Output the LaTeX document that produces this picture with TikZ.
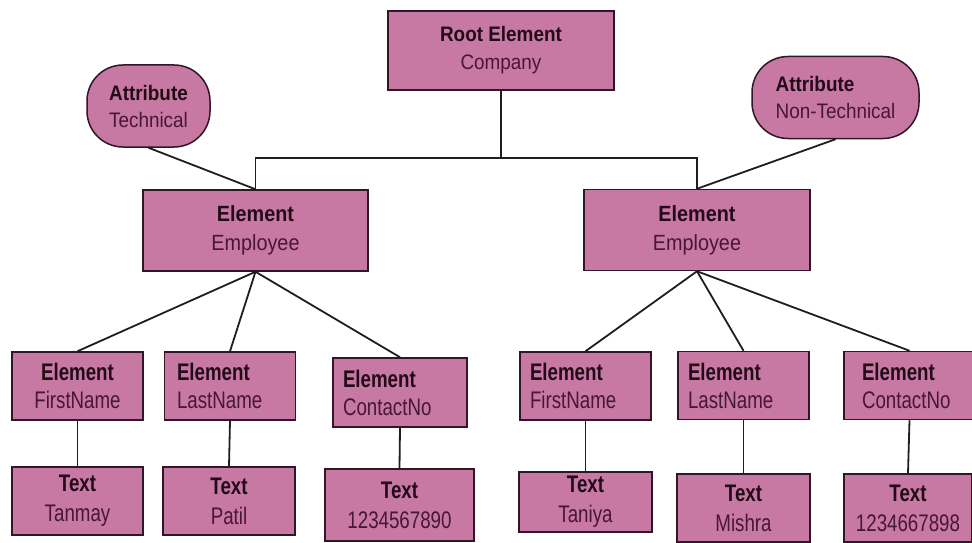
\documentclass[tikz,border=0pt]{standalone}
\usepackage{fontspec}
\setmainfont{Liberation Sans}
\newfontfamily\upperfont{Liberation Sans}[FakeStretch=0.9]
\newfontfamily\lowerfont{Liberation Sans}[FakeStretch=0.78]
\definecolor{xmlpink}{RGB}{199,121,163}
\definecolor{xmledge}{RGB}{48,22,38}
\definecolor{xmlbold}{RGB}{35,10,25}
\definecolor{xmltext}{RGB}{72,22,56}
\definecolor{xmlline}{RGB}{30,30,30}
\newcommand{\xmlhead}[1]{\textcolor{xmlbold}{\textbf{#1}}}

\begin{document}
\begin{tikzpicture}[x=1pt, y=-1pt,
  rootbox/.style={draw=xmledge, line width=1.5pt, fill=xmlpink, text=xmltext, minimum width=226, minimum height=79, align=center, inner sep=0pt, font=\upperfont\fontsize{21}{28}\selectfont},
  attrbox/.style={draw=xmledge, line width=1.5pt, rounded corners=36pt, fill=xmlpink, text=xmltext, minimum height=82, align=left, inner sep=0pt, font=\upperfont\fontsize{21}{27}\selectfont},
  empbox/.style={draw=xmledge, line width=1.5pt, fill=xmlpink, text=xmltext, minimum width=225, minimum height=81, align=center, inner sep=0pt, font=\upperfont\fontsize{22}{29}\selectfont},
  elembox/.style={draw=xmledge, line width=1.5pt, fill=xmlpink, text=xmltext, minimum width=131, minimum height=68, align=center, inner sep=0pt, font=\lowerfont\fontsize{24}{28}\selectfont},
  elemleft/.style={elembox, align=left, text width=#1, inner xsep=10pt},
  textbox/.style={draw=xmledge, line width=1.5pt, fill=xmlpink, text=xmltext, minimum width=132, minimum height=68, align=center, inner sep=0pt, font=\lowerfont\fontsize{24}{30}\selectfont},
  link/.style={draw=xmlline, line width=1.8pt}
]
\useasboundingbox (0,0) rectangle (972,543);

% top of the tree
\node[rootbox] (root) at (501,50.5) {\xmlhead{Root Element}\\Company};
\node[attrbox, minimum width=123] (attrL) at (148.5,106) {\xmlhead{Attribute}\\Technical};
\node[attrbox, minimum width=167] (attrR) at (835.5,97.5) {\xmlhead{Attribute}\\Non-Technical};
\node[empbox] (empL) at (255.5,230.5) {\xmlhead{Element}\\Employee};
\node[empbox, minimum width=226] (empR) at (697,230) {\xmlhead{Element}\\Employee};
\coordinate (bus) at (501,158);

% child elements
\node[elembox] (fnL) at (77.5,386) {\xmlhead{Element}\\FirstName};
\node[elemleft=106pt] (lnL) at (230,386) {\xmlhead{Element}\\LastName};
\node[elemleft=114pt, minimum height=69] (cnL) at (400,392.5) {\xmlhead{Element}\\ContactNo};
\node[elemleft=111pt] (fnR) at (585.5,386) {\xmlhead{Element}\\FirstName};
\node[elemleft=111pt] (lnR) at (743.5,385.5) {\xmlhead{Element}\\LastName};
\node[elemleft=95pt] (cnR) at (909.5,385.5) {\xmlhead{Element}\\ContactNo};

% text values
\node[textbox, minimum width=131] (tfnL) at (77.5,501) {\xmlhead{Text}\\Tanmay};
\node[textbox] (tlnL) at (229,501) {\xmlhead{Text}\\Patil};
\node[textbox, minimum width=149, minimum height=72] (tcnL) at (399.5,505) {\xmlhead{Text}\\1234567890};
\node[textbox, minimum width=133, minimum height=60] (tfnR) at (585.5,502) {\xmlhead{Text}\\Taniya};
\node[textbox, minimum width=133] (tlnR) at (743.5,508) {\xmlhead{Text}\\Mishra};
\node[textbox, minimum width=128] (tcnR) at (908,508) {\xmlhead{Text}\\1234667898};

% connectors
\draw[link] (root.south) -- (bus);
\draw[link] (empL.north) -- (empL.north |- bus) -- (empR.north |- bus) -- (empR.north);
\draw[link] (attrL.south) -- (empL.north);
\draw[link] (attrR.south) -- (empR.north);
\foreach \kid in {fnL,lnL,cnL}
  \draw[link] (empL.south) -- (\kid.north);
\foreach \kid in {fnR,lnR,cnR}
  \draw[link] (empR.south) -- (\kid.north);
\foreach \kid in {fnL,lnL,cnL,fnR,lnR,cnR}
  \draw[link] (\kid.south) -- (t\kid.north);

\end{tikzpicture}
\end{document}
